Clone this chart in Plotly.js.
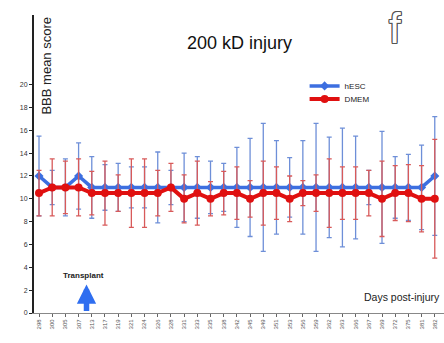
<!DOCTYPE html>
<html>
<head>
<meta charset="utf-8">
<script src="https://cdn.plot.ly/plotly-3.0.1.min.js"></script>
<style>html,body{margin:0;padding:0;background:#fff;}#chart{width:444px;height:343px;}</style>
</head>
<body>
<div id="chart"></div>
<script>
const days = ["298","300","305","307","313","317","319","321","324","326","328","331","333","335","338","342","345","349","351","353","356","359","362","363","366","367","369","372","375","381","382"];
const hescMean = [12,11,11,12,11,11,11,11,11,11,11,11,11,11,11,11,11,11,11,11,11,11,11,11,11,11,11,11,11,11,12];
const hescErr  = [3.5,1.5,2.5,2.9,2.7,2,2.1,1.8,1.8,3.1,1.5,3,2.7,2.3,2.1,3.5,4.3,5.6,4.1,2.6,4.1,5.6,4.4,5.2,4.5,1.5,4.9,2.7,2.9,3.7,5.2];
const dmemMean = [10.5,11,11,11,10.5,10.5,10.5,10.5,10.5,10.5,11,10,10.5,10,10.5,10.5,10,10.5,10.5,10,10.5,10.5,10.5,10.5,10.5,10.5,10,10.5,10.5,10,10];
const dmemErr  = [2,2.5,2.3,2.5,1.9,2.8,1.6,3,3,2,2.1,2.1,2.8,1.5,1.9,2.3,1.6,2.8,2.3,2,1.1,1.6,3,2.3,2.3,2,3.3,2.4,2.5,2.9,5.2];
const yTicks = [0,2,4,6,8,10,12,14,16,18,20];

const idx = days.map((d,i)=>i);
const FONT = "Arial, Liberation Sans, sans-serif";

const traces = [
  {
    x: idx, y: hescMean, name: "hESC", type: "scatter", mode: "lines+markers", legend: "legend",
    line: {color: "#3d6fe0", width: 3.5},
    marker: {symbol: "diamond", size: 7, color: "#3d6fe0"},
    error_y: {type: "data", array: hescErr, visible: true, color: "#6e8fd8", thickness: 1.3, width: 2.5}
  },
  {
    x: idx, y: dmemMean, name: "DMEM", type: "scatter", mode: "lines+markers", legend: "legend2",
    line: {color: "#e01010", width: 4},
    marker: {symbol: "circle", size: 8, color: "#e01010"},
    error_y: {type: "data", array: dmemErr, visible: true, color: "#d85a5a", thickness: 1.3, width: 2.5}
  }
];

const legendCommon = {xanchor: "left", yanchor: "middle", font: {family: FONT, size: 8, color: "#222"},
  bgcolor: "rgba(0,0,0,0)", itemwidth: 30};

const layout = {
  width: 444, height: 343,
  margin: {l: 34, r: 0, t: 15, b: 30},
  paper_bgcolor: "#fff", plot_bgcolor: "#fff",
  showlegend: true,
  legend: Object.assign({x: 0.66, y: 0.762}, legendCommon),
  legend2: Object.assign({x: 0.66, y: 0.718}, legendCommon),
  xaxis: {
    range: [-0.38, 30.7], tickmode: "array", tickvals: idx, ticktext: days,
    tickangle: -90, tickfont: {family: FONT, size: 6, color: "#555"},
    showgrid: false, zeroline: false, showline: true, linecolor: "#888", linewidth: 1,
    ticks: "outside", ticklen: 3, tickcolor: "#666", fixedrange: true
  },
  yaxis: {
    range: [0, 26.1], tickmode: "array", tickvals: yTicks,
    tickfont: {family: FONT, size: 7, color: "#333"},
    showgrid: false, zeroline: false, showline: true, linecolor: "#222", linewidth: 2,
    ticks: "outside", ticklen: 3, tickcolor: "#222", fixedrange: true
  },
  annotations: [
    {xref: "paper", yref: "paper", x: 0.5, y: 0.905, xanchor: "center", yanchor: "middle", showarrow: false,
     text: "200 kD injury", font: {family: FONT, size: 18, color: "#111"}},
    {xref: "paper", yref: "paper", x: 0.88, y: 0.955, xanchor: "center", yanchor: "middle", showarrow: false,
     text: "f", font: {family: FONT, size: 42, color: "#ffffff",
       shadow: "1px 1px 0 #555, -1px -1px 0 #555, 1px -1px 0 #555, -1px 1px 0 #555, 0 1px 0 #555, 0 -1px 0 #555, 1px 0 0 #555, -1px 0 0 #555"}},
    {xref: "paper", yref: "paper", x: 0.005, y: 1.0, xanchor: "left", yanchor: "top", showarrow: false, textangle: -90,
     text: "BBB mean score", font: {family: FONT, size: 13, color: "#222"}},
    {xref: "paper", yref: "paper", x: 0.995, y: 0.055, xanchor: "right", yanchor: "middle", showarrow: false,
     text: "Days post-injury", font: {family: FONT, size: 10.5, color: "#222"}},
    {xref: "x", yref: "y", x: 3.4, y: 3.3, xanchor: "center", yanchor: "middle", showarrow: false,
     text: "<b>Transplant</b>", font: {family: FONT, size: 8, color: "#222"}},
    {xref: "x", yref: "y", x: 3.6, y: 2.5, axref: "x", ayref: "y", ax: 3.6, ay: 0.05, showarrow: true,
     arrowhead: 2, arrowsize: 0.7, arrowwidth: 5.5, arrowcolor: "#2f6ef0", text: ""}
  ]
};

Plotly.newPlot("chart", traces, layout, {displayModeBar: false, staticPlot: true});
</script>
</body>
</html>
